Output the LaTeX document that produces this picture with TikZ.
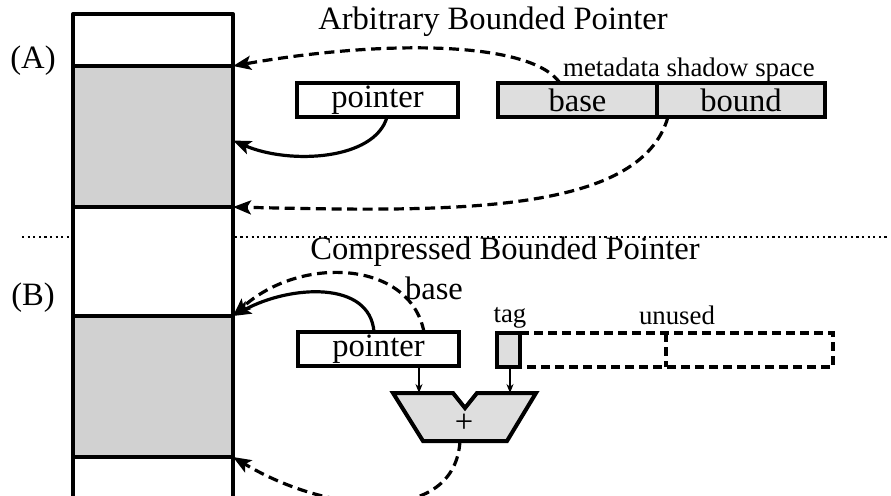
\documentclass[tikz,border=0pt]{standalone}
\usepackage{fontspec}
\setmainfont{Liberation Serif}
\usetikzlibrary{arrows.meta}
\definecolor{cellgrey}{gray}{0.82}
\definecolor{boxgrey}{gray}{0.87}
\newcommand{\bigf}{\fontsize{16.3}{18}\selectfont}
\newcommand{\smallf}{\fontsize{13.4}{15}\selectfont}
\begin{document}
\begin{tikzpicture}[x=0.5pt,y=-0.5pt,
  thickbox/.style={draw, line width=2pt, minimum height=17pt, inner sep=0pt, outer sep=0pt, font=\bigf},
  ghostbox/.style={minimum height=17pt, inner sep=0pt, outer sep=0pt},
  dashline/.style={line width=2pt, dash pattern=on 4.5pt off 2.5pt},
  cell/.style={draw, line width=2pt, fill=cellgrey, minimum width=80pt, minimum height=70.5pt, inner sep=0pt, outer sep=0pt},
  conn/.style={line width=1.6pt, -{Stealth[length=9pt,width=7pt,inset=2pt]}},
  dconn/.style={conn, dash pattern=on 5pt off 2.8pt},
  thinarrow/.style={line width=0.7pt, -{Stealth[length=4.5pt,width=3.5pt]}},
  lbl/.style={inner sep=0pt, font=\bigf},
  slbl/.style={inner sep=0pt, font=\smallf}]
\useasboundingbox (0,0) rectangle (891,495);
\clip (0,0) rectangle (891,495);
% separator
\draw[line width=1.1pt, dash pattern=on 1.1pt off 1.7pt] (22,237) -- (888,237);
% memory column
\fill[white] (73,14) rectangle (233,510);
\node[cell] (cellA) at (153,136.5) {};
\node[cell] (cellB) at (153,386.5) {};
\draw[line width=2pt, line join=round] (73,510) -- (73,14) -- (233,14) -- (233,510);
% labels
\node[lbl] (labA) at (33,61) {(A)};
\node[lbl] (labB) at (33,298) {(B)};
\node[lbl] (titleA) at (493,22) {Arbitrary Bounded Pointer};
\node[lbl] (titleB) at (505,252) {Compressed Bounded Pointer};
% ---- (A)
\node[thickbox, minimum width=80.5pt] (pA) at (377.5,100) {pointer};
\node[thickbox, fill=boxgrey, minimum width=79.5pt] (baseA) at (577.5,100) {base};
\node[thickbox, fill=boxgrey, minimum width=84pt] (boundA) at (741,100) {bound};
\node[slbl] (meta) at (689,70) {metadata shadow space};
\coordinate (pAout) at ([xshift=4.75pt]pA.south);
\coordinate (baseAout) at ([xshift=-8.75pt]baseA.north);
\coordinate (boundAout) at ([xshift=5.5pt]boundA.south west);
\coordinate (cellAmid) at ([yshift=-2pt]cellA.east);
\draw[dconn] (baseAout) .. controls (530,40) and (380,40) .. (cellA.north east);
\draw[conn] (pAout) .. controls (375,160) and (290,165) .. (cellAmid);
\draw[dconn] (boundAout) .. controls (640,215) and (450,212) .. (cellA.south east);
% ---- (B)
\node[thickbox, minimum width=80.5pt] (pB) at (378.5,349) {pointer};
\node[thickbox, fill=boxgrey, minimum width=11.5pt] (tag) at (508.5,350) {};
\node[ghostbox, minimum width=73pt] (un1) at (593,350) {};
\node[ghostbox, minimum width=83.5pt] (un2) at (749.5,350) {};
\draw[dashline] (tag.north east) -- (un2.north east) -- (un2.south east) -- (tag.south east);
\draw[dashline] (un1.north east) -- (un1.south east);
\node[slbl] (tagl) at (510,318) {tag};
\node[slbl] (unl) at (677,315) {unused};
\node[lbl] (basel) at (434,288) {base};
% adder
\coordinate (addL) at (419,393);
\coordinate (addR) at (510,393);
\coordinate (addout) at (460,441);
\draw[line width=2pt, fill=boxgrey, line join=miter] (393,393) -- (453,393) -- (465,408) -- (477,393) -- (536,393) -- (507,441) -- (423,441) -- cycle;
\node[lbl] (plus) at (464,423) {+};
\draw[thinarrow] (pB.south -| addL) -- (addL);
\draw[thinarrow] (tag.south -| addR) -- (addR);
\coordinate (pBs) at ([xshift=-2.25pt]pB.north);
\coordinate (pBd) at ([xshift=22.75pt]pB.north);
\draw[conn] (pBs) .. controls (370,280) and (290,285) .. (cellB.north east);
\draw[dconn] (pBd) .. controls (410,260) and (300,255) .. (cellB.north east);
\draw[dconn] (addout) .. controls (455,525) and (330,515) .. (cellB.south east);
\end{tikzpicture}
\end{document}
